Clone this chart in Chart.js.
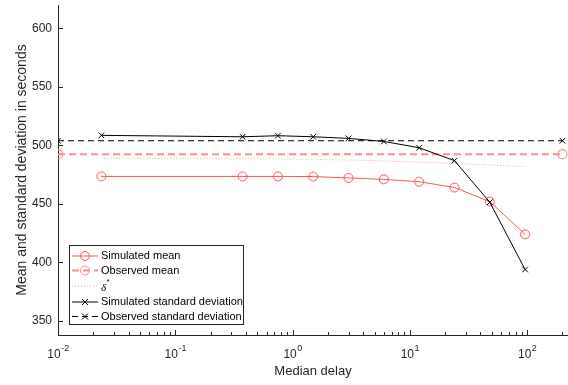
<!DOCTYPE html>
<html>
<head>
<meta charset="utf-8">
<script src="https://cdn.jsdelivr.net/npm/chart.js@4.4.1/dist/chart.umd.min.js"></script>
<style>
  html, body { margin: 0; padding: 0; background: #fff; }
  #wrap { width: 568px; height: 385px; }
</style>
</head>
<body>
<div id="wrap"><canvas id="delay-chart" width="568" height="385"></canvas></div>
<script>
// median delays of the simulation runs (seconds)
const delays = [0.0234375, 0.375, 0.75, 1.5, 3, 6, 12, 24, 48, 96];
const simMean = [473.5, 473.5, 473.5, 473.4, 472.2, 471, 469, 464, 452, 424];
const simStd = [508.6, 507.4, 508.3, 507.4, 506, 503.4, 498, 487, 451.5, 394];
const deltaStar = [489, 488.6, 488.4, 488, 487.6, 486.7, 485.8, 484.5, 483.3, 482];

// observed values are flat reference lines
const obsDelays = [0.01, 200];
const obsMean = [492.5, 492.5];
const obsStd = [504, 504];

const xExponents = [-2, -1, 0, 1, 2];
const yTicks = [350, 400, 450, 500, 550, 600];

const AXIS = "#262626";
const RED = "rgb(255,85,85)";
const RED_LIGHT = "rgb(255,140,140)";
const PINK = "rgb(255,150,150)";
const SANS = "'Liberation Sans', Arial, sans-serif";

function pts(xs, ys) {
  return xs.map((x, i) => ({ x: x, y: ys[i] }));
}

// inward ticks, 10^n labels and the boxed legend
const axisDecor = {
  id: "axisDecor",
  afterDraw(chart) {
    const ctx = chart.ctx;
    const xs = chart.scales.x;
    const ys = chart.scales.y;
    const area = chart.chartArea;
    ctx.save();
    ctx.strokeStyle = AXIS;
    ctx.lineWidth = 1;
    ctx.beginPath();
    xExponents.forEach(e => {
      for (let k = 1; k <= 9; k++) {
        const v = k * Math.pow(10, e);
        if (v > xs.max) break;
        const px = Math.round(xs.getPixelForValue(v)) + 0.5;
        const len = k === 1 ? 5 : 3;
        ctx.moveTo(px, area.bottom);
        ctx.lineTo(px, area.bottom - len);
      }
    });
    yTicks.forEach(v => {
      const py = Math.round(ys.getPixelForValue(v)) + 0.5;
      ctx.moveTo(area.left, py);
      ctx.lineTo(area.left + 5, py);
    });
    ctx.stroke();

    // tick labels 10^n
    ctx.fillStyle = AXIS;
    ctx.textBaseline = "alphabetic";
    xExponents.forEach(e => {
      const px = xs.getPixelForValue(Math.pow(10, e));
      const base = "10";
      const sup = e < 0 ? "-" + Math.abs(e) : String(e);
      ctx.font = "12px " + SANS;
      const wb = ctx.measureText(base).width;
      ctx.font = "9px " + SANS;
      const ws = ctx.measureText(sup).width;
      const x0 = px - (wb + ws) / 2;
      ctx.font = "12px " + SANS;
      ctx.fillText(base, x0, 358);
      ctx.font = "9px " + SANS;
      ctx.fillText(sup, x0 + wb + 0.5, 351);
    });

    // legend
    const box = { x: 69.5, y: 245.5, w: 174, h: 79 };
    ctx.fillStyle = "#fff";
    ctx.fillRect(box.x, box.y, box.w, box.h);
    ctx.strokeStyle = AXIS;
    ctx.strokeRect(box.x, box.y, box.w, box.h);
    const rows = [256, 270.5, 286, 302, 316.5];
    chart.data.datasets.forEach((ds, i) => {
      const y = rows[i];
      ctx.save();
      ctx.strokeStyle = ds.borderColor;
      ctx.lineWidth = ds.borderWidth;
      ctx.setLineDash(ds.borderDash || []);
      ctx.beginPath();
      ctx.moveTo(72, y);
      ctx.lineTo(98, y);
      ctx.stroke();
      ctx.setLineDash([]);
      ctx.lineWidth = 1;
      if (ds.pointStyle === "circle" && ds.pointRadius > 0) {
        ctx.beginPath();
        ctx.arc(85, y, ds.pointRadius, 0, Math.PI * 2);
        ctx.strokeStyle = ds.pointBorderColor;
        ctx.stroke();
      } else if (ds.pointStyle === "crossRot" && ds.pointRadius > 0) {
        const r = ds.pointRadius * 0.75;
        ctx.strokeStyle = ds.pointBorderColor;
        ctx.beginPath();
        ctx.moveTo(85 - r, y - r); ctx.lineTo(85 + r, y + r);
        ctx.moveTo(85 + r, y - r); ctx.lineTo(85 - r, y + r);
        ctx.stroke();
      }
      ctx.restore();
      ctx.fillStyle = "#000";
      ctx.textBaseline = "middle";
      if (ds.label === "delta") {
        ctx.font = "italic 11px 'Liberation Serif', 'Times New Roman', serif";
        ctx.fillText("\u03b4", 101, y + 2);
        const w = ctx.measureText("\u03b4").width;
        ctx.font = "8px " + SANS;
        ctx.fillText("*", 101 + w + 0.5, y - 4);
      } else {
        ctx.font = "11px " + SANS;
        ctx.fillText(ds.label, 101, y);
      }
    });
    ctx.restore();
  }
};

new Chart(document.getElementById("delay-chart"), {
  type: "line",
  data: {
    datasets: [
      {
        label: "Simulated mean",
        data: pts(delays, simMean),
        borderColor: RED,
        borderWidth: 1,
        pointStyle: "circle",
        pointRadius: 4.5,
        pointBorderColor: RED,
        pointBackgroundColor: "rgba(0,0,0,0)",
        pointBorderWidth: 1,
        order: 5,
      },
      {
        label: "Observed mean",
        data: pts(obsDelays, obsMean),
        borderColor: RED_LIGHT,
        borderWidth: 2,
        borderDash: [7, 4],
        pointStyle: "circle",
        pointRadius: 4.5,
        pointBorderColor: RED_LIGHT,
        pointBackgroundColor: "rgba(0,0,0,0)",
        pointBorderWidth: 1.2,
        order: 4,
      },
      {
        label: "delta",
        data: pts(delays, deltaStar),
        borderColor: PINK,
        borderWidth: 1,
        borderDash: [1, 2],
        pointRadius: 0,
        order: 3,
      },
      {
        label: "Simulated standard deviation",
        data: pts(delays, simStd),
        borderColor: "#000",
        borderWidth: 1,
        pointStyle: "crossRot",
        pointRadius: 4,
        pointBorderColor: "#000",
        pointBorderWidth: 1,
        order: 2,
      },
      {
        label: "Observed standard deviation",
        data: pts(obsDelays, obsStd),
        borderColor: "#000",
        borderWidth: 1,
        borderDash: [6, 4],
        pointStyle: "crossRot",
        pointRadius: 4,
        pointBorderColor: "#000",
        pointBorderWidth: 1,
        order: 1,
      },
    ],
  },
  options: {
    responsive: false,
    animation: false,
    devicePixelRatio: 1,
    layout: { autoPadding: false, padding: { top: 5, right: 0, left: 0, bottom: 0 } },
    plugins: { legend: { display: false }, tooltip: { enabled: false } },
    scales: {
      x: {
        type: "logarithmic",
        min: 0.01,
        max: 223,
        grid: { display: false },
        border: { display: true, color: AXIS, width: 1 },
        ticks: { display: false },
        title: {
          display: true,
          text: "Median delay",
          color: AXIS,
          font: { family: SANS, size: 13 },
          padding: { top: 0, bottom: 6 },
        },
        afterFit(scale) {
          scale.height = 50;
          scale.paddingLeft = 0;
          scale.paddingRight = 0;
        },
      },
      y: {
        type: "linear",
        min: 338,
        max: 620,
        grid: { display: false, drawTicks: false },
        border: { display: true, color: AXIS, width: 1 },
        ticks: {
          stepSize: 50,
          includeBounds: false,
          color: AXIS,
          padding: 6,
          font: { family: SANS, size: 12 },
        },
        title: {
          display: true,
          text: "Mean and standard deviation in seconds",
          color: AXIS,
          font: { family: SANS, size: 14 },
          padding: { top: 14, bottom: 0 },
        },
        afterFit(scale) {
          scale.width = 58;
          scale.paddingTop = 0;
          scale.paddingBottom = 0;
        },
      },
    },
  },
  plugins: [axisDecor],
});
</script>
</body>
</html>
